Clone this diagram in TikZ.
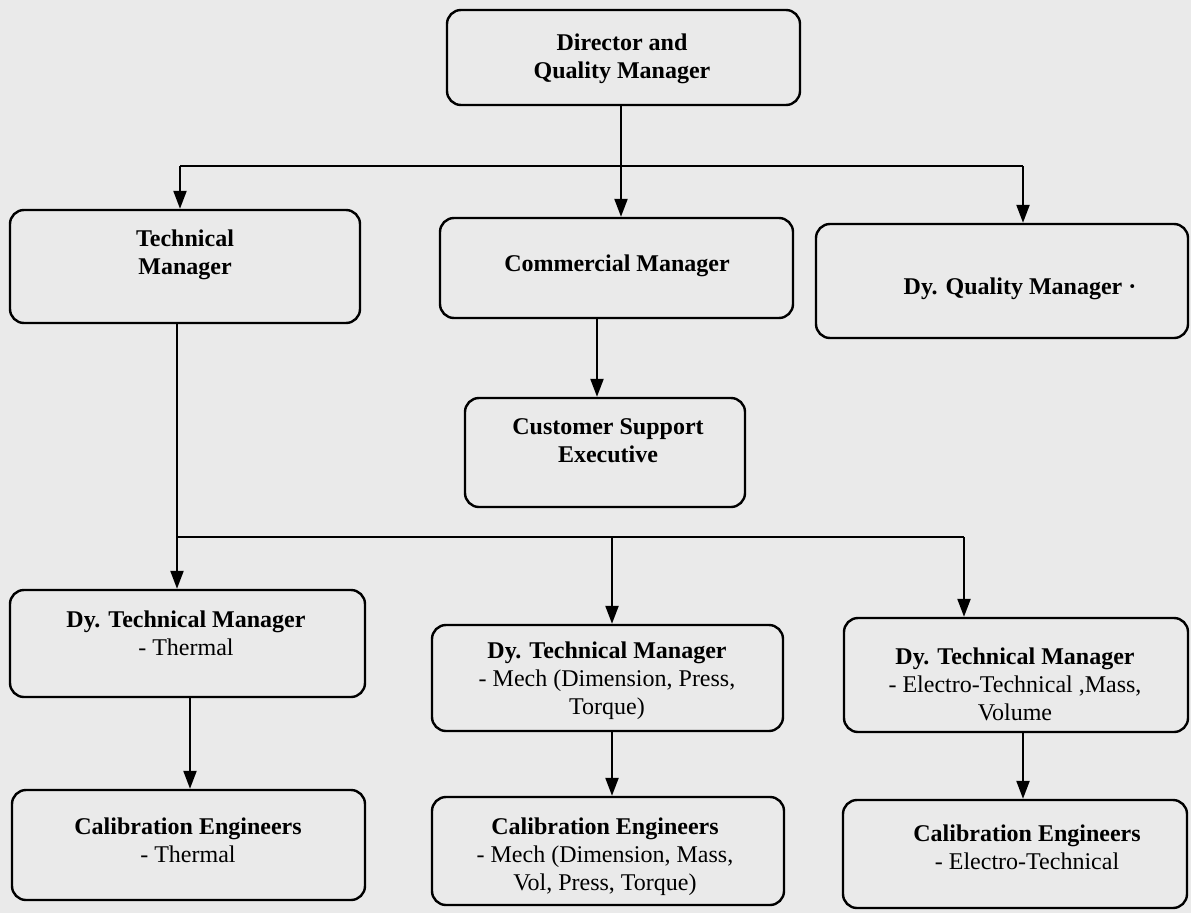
\documentclass[tikz,border=0pt]{standalone}
\usepackage{fontspec}
\setmainfont{Liberation Serif}
\usetikzlibrary{arrows.meta}
\definecolor{paper}{HTML}{EAEAEA}
\tikzset{
  box/.style={draw=black, line width=2.4pt, rounded corners=14pt, fill=paper, inner sep=0pt},
  txt/.style={align=center, font=\fontsize{24}{28}\selectfont\bfseries, inner sep=0pt},
  conn/.style={draw=black, line width=2.2pt},
  arr/.style={conn, -{Triangle[length=18pt,width=13pt]}}
}
\newcommand{\sub}[1]{{\mdseries #1}}
\begin{document}
\begin{tikzpicture}[x=1pt,y=-1pt]
\fill[paper] (0,0) rectangle (1191,913);
\useasboundingbox (0,0) rectangle (1191,913);

% boxes
\node[box, minimum width=353pt, minimum height=95pt] (dir) at (623.5,57.5) {};
\node[box, minimum width=350pt, minimum height=113pt] (tech) at (185,266.5) {};
\node[box, minimum width=353pt, minimum height=100pt] (comm) at (616.5,268) {};
\node[box, minimum width=372pt, minimum height=114pt] (dqm) at (1002,281) {};
\node[box, minimum width=280pt, minimum height=109pt] (cse) at (605,452.5) {};
\node[box, minimum width=355pt, minimum height=107pt] (dth) at (187.5,643.5) {};
\node[box, minimum width=351pt, minimum height=106pt] (dme) at (607.5,678) {};
\node[box, minimum width=344pt, minimum height=114pt] (del) at (1016,675) {};
\node[box, minimum width=353pt, minimum height=110pt] (cth) at (188.5,845) {};
\node[box, minimum width=352pt, minimum height=108pt] (cme) at (608,851) {};
\node[box, minimum width=344pt, minimum height=108pt] (cel) at (1015,854) {};

% texts
\node[txt] (tdir) at (622,59) {Director and\\Quality Manager};
\node[txt] (ttech) at (185,255) {Technical\\Manager};
\node[txt] (tcomm) at (617,266) {Commercial Manager};
\node[txt] (tdqm) at (1020,289) {Dy. Quality Manager ·};
\node[txt] (tcse) at (608,441) {Customer Support\\Executive};
\node[txt] (tdth) at (186,633) {Dy. Technical Manager\\\sub{- Thermal}};
\node[txt] (tdme) at (607,681) {Dy. Technical Manager\\\sub{- Mech (Dimension, Press,}\\\sub{Torque)}};
\node[txt] (tdel) at (1015,684) {Dy. Technical Manager\\\sub{- Electro-Technical ,Mass,}\\\sub{Volume}};
\node[txt] (tcth) at (188,840) {Calibration Engineers\\\sub{- Thermal}};
\node[txt] (tcme) at (605,857) {Calibration Engineers\\\sub{- Mech (Dimension, Mass,}\\\sub{Vol, Press, Torque)}};
\node[txt] (tcel) at (1027,847) {Calibration Engineers\\\sub{- Electro-Technical}};

% bus coordinates
\coordinate (b1l) at (180,166);
\coordinate (b1r) at (1023,166);
\coordinate (b1m) at (621,166);
\coordinate (b2l) at (177,537);
\coordinate (b2m) at (612,537);
\coordinate (b2r) at (964,537);

% top level
\draw[arr] (dir.south -| b1m) -- (comm.north -| b1m);
\draw[conn] (b1l) -- (b1r);
\draw[arr] (b1l) -- (tech.north -| b1l);
\draw[arr] (b1r) -- (dqm.north -| b1r);

% commercial to customer support
\coordinate (cx) at (597,0);
\draw[arr] (comm.south -| cx) -- (cse.north -| cx);

% technical manager bus
\draw[conn] (tech.south -| b2l) -- (b2l);
\draw[conn] (b2l) -- (b2r);
\draw[arr] (b2l) -- (dth.north -| b2l);
\draw[arr] (b2m) -- (dme.north -| b2m);
\draw[arr] (b2r) -- (del.north -| b2r);

% to calibration engineers
\coordinate (x1) at (190,0);
\coordinate (x2) at (612,0);
\coordinate (x3) at (1023,0);
\draw[arr] (dth.south -| x1) -- (cth.north -| x1);
\draw[arr] (dme.south -| x2) -- (cme.north -| x2);
\draw[arr] (del.south -| x3) -- (cel.north -| x3);
\end{tikzpicture}
\end{document}
